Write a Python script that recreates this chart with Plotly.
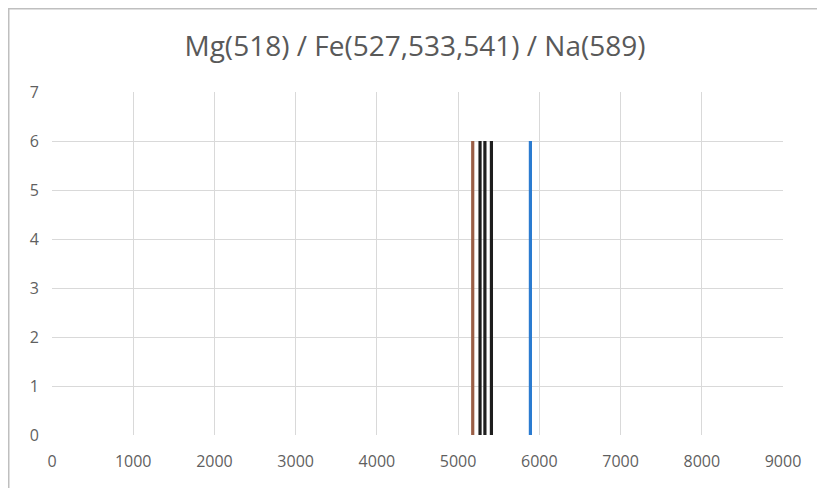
import plotly.graph_objects as go

elements = ["Mg", "Fe", "Fe", "Fe", "Na"]
wavelengths = [5180, 5270, 5330, 5410, 5890]
heights = [6, 6, 6, 6, 6]
colors = ["#9A5E46", "#1E1E1E", "#1E1E1E", "#1E1E1E", "#2B7BD0"]

x_ticks = [0, 1000, 2000, 3000, 4000, 5000, 6000, 7000, 8000, 9000]
y_ticks = [0, 1, 2, 3, 4, 5, 6, 7]

fig = go.Figure()
for el, w, h, c in zip(elements, wavelengths, heights, colors):
    fig.add_trace(go.Scatter(x=[w, w], y=[0, h], mode="lines",
                             line=dict(color=c, width=3.2), name=el,
                             showlegend=False))

OFF = 8  # page body margin
W, H = 825 - OFF, 488 - OFF
# plot area in page coords: x 52..783, y 92..435
L, R, T, B = 52 - OFF, 825 - 783, 92 - OFF, 488 - 435
pw, ph = W - L - R, H - T - B

fig.update_layout(
    width=W, height=H,
    margin=dict(l=L, r=R, t=T, b=B),
    paper_bgcolor="white", plot_bgcolor="white",
    font=dict(family="Open Sans, Liberation Sans, sans-serif", color="#5F5F5F", size=16),
    title=dict(text="Mg(518) / Fe(527,533,541) / Na(589)", x=(415 - OFF) / W, xanchor="center",
               y=1 - (46 - OFF) / H, yanchor="middle",
               font=dict(size=28, color="#595959")),
    xaxis=dict(range=[0, 9000], tickvals=x_ticks, showgrid=True, gridcolor="#D9D9D9",
               gridwidth=1, zeroline=False, showline=False, ticks="",
               ticklabelstandoff=15, fixedrange=True),
    yaxis=dict(range=[0, 7], tickvals=y_ticks, showgrid=True, gridcolor="#D9D9D9",
               gridwidth=1, zeroline=False, showline=False, ticks="",
               ticklabelstandoff=12, fixedrange=True),
    shapes=[
        dict(type="line", xref="paper", yref="paper",
             x0=(0.5 - L) / pw, x1=(0.5 - L) / pw, y0=(H - B) / ph,
             y1=-B / ph - 0.05, line=dict(color="#BFBFBF", width=2)),
        dict(type="line", xref="paper", yref="paper",
             x0=(0.5 - L) / pw, x1=(W + 10 - L) / pw,
             y0=(H - B - 0.5) / ph, y1=(H - B - 0.5) / ph,
             line=dict(color="#BFBFBF", width=2)),
    ],
)

fig.write_html("out.html")
